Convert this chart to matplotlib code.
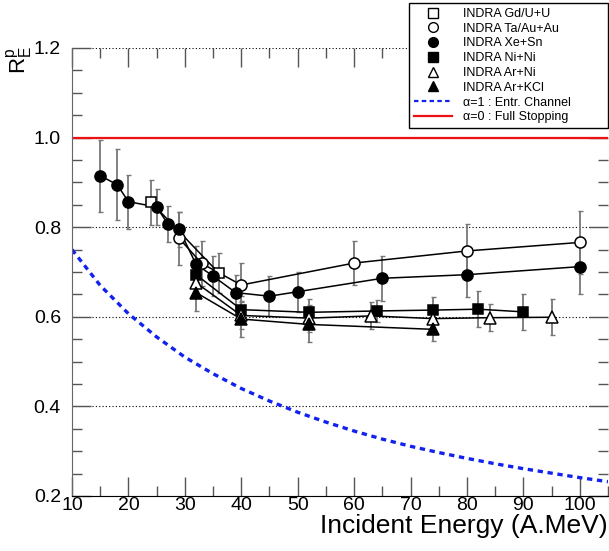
import matplotlib
matplotlib.use("Agg")
import matplotlib.pyplot as plt
from matplotlib.lines import Line2D
from matplotlib.ticker import MultipleLocator

plt.rcParams['font.family'] = ['Liberation Sans', 'DejaVu Sans']
plt.rcParams['mathtext.fontset'] = 'custom'
plt.rcParams['mathtext.rm'] = 'Liberation Sans'
plt.rcParams['mathtext.it'] = 'Liberation Sans'

# values
gdu_e = [24, 36]
gdu_r = [0.856, 0.698]
gdu_err = [0.05, 0.045]

taau_e = [29, 33, 40, 60, 80, 100]
taau_r = [0.775, 0.719, 0.671, 0.720, 0.747, 0.766]
taau_err = [0.06, 0.05, 0.05, 0.05, 0.06, 0.07]

xesn_e = [15, 18, 20, 25, 27, 29, 32, 35, 39, 45, 50, 65, 80, 100]
xesn_r = [0.915, 0.895, 0.857, 0.845, 0.807, 0.795, 0.717, 0.691,
          0.654, 0.646, 0.656, 0.686, 0.694, 0.712]
xesn_err = [0.08, 0.08, 0.06, 0.04, 0.04, 0.04, 0.04, 0.045,
            0.04, 0.045, 0.045, 0.05, 0.05, 0.06]

nini_e = [32, 40, 52, 64, 74, 82, 90]
nini_r = [0.694, 0.616, 0.610, 0.613, 0.615, 0.617, 0.611]
nini_err = [0.03, 0.03, 0.03, 0.025, 0.03, 0.04, 0.04]

arni_e = [32, 40, 52, 63, 74, 84, 95]
arni_r = [0.676, 0.603, 0.597, 0.602, 0.596, 0.598, 0.599]
arni_err = [0.03, 0.03, 0.03, 0.03, 0.03, 0.03, 0.04]

arkcl_e = [32, 40, 52, 74]
arkcl_r = [0.654, 0.595, 0.583, 0.572]
arkcl_err = [0.04, 0.04, 0.04, 0.025]

# alpha=1 entrance channel curve
entr_e = [10, 15, 20, 25, 30, 35, 40, 45, 50, 55, 60, 65, 70, 75, 80,
          85, 90, 95, 100, 105]
entr_r = [0.750, 0.670, 0.607, 0.555, 0.510, 0.473, 0.440, 0.412, 0.387,
          0.365, 0.345, 0.327, 0.311, 0.297, 0.284, 0.272, 0.261, 0.251,
          0.241, 0.232]

# alpha=0 full stopping
stop_e = [10, 105]
stop_r = [1.0, 1.0]

series = [
    (gdu_e, gdu_r, gdu_err, 's', 'white', 'INDRA Gd/U+U'),
    (taau_e, taau_r, taau_err, 'o', 'white', 'INDRA Ta/Au+Au'),
    (xesn_e, xesn_r, xesn_err, 'o', 'black', 'INDRA Xe+Sn'),
    (nini_e, nini_r, nini_err, 's', 'black', 'INDRA Ni+Ni'),
    (arni_e, arni_r, arni_err, '^', 'white', 'INDRA Ar+Ni'),
    (arkcl_e, arkcl_r, arkcl_err, '^', 'black', 'INDRA Ar+KCl'),
]

fig = plt.figure(figsize=(6.09, 5.51), dpi=100)
ax = fig.add_axes([72 / 609, 55 / 551, 536 / 609, 448 / 551])

ax.plot(stop_e, stop_r, color='#ee1111', lw=1.6, zorder=2)
ax.plot(entr_e, entr_r, color='#1122ee', lw=2.4, ls=(0, (1.6, 1.4)), zorder=2)

handles = []
for i, (e, r, err, m, fc, lab) in enumerate(series):
    ax.errorbar(e, r, yerr=err, fmt='none', ecolor='#777777', elinewidth=1.3,
                capsize=1.8, capthick=1.0, zorder=3)
    ax.plot(e, r, color='black', lw=1.1, zorder=4)
    ax.plot(e, r, ls='none', marker=m, ms=8 if m != 's' else 7.5,
            mfc=fc, mec='black', mew=1.1, zorder=5 + i)
    handles.append(Line2D([], [], ls='none', marker=m, ms=7, mfc=fc,
                          mec='black', mew=1.0, label=lab))

handles.append(Line2D([], [], color='#1122ee', lw=1.6, ls=(0, (2, 1.5)),
                      label='α=1 : Entr. Channel'))
handles.append(Line2D([], [], color='#ee1111', lw=1.6,
                      label='α=0 : Full Stopping'))

ax.set_xlim(10, 105)
ax.set_ylim(0.2, 1.2)
ax.xaxis.set_major_locator(MultipleLocator(10))
ax.xaxis.set_minor_locator(MultipleLocator(5))
ax.yaxis.set_major_locator(MultipleLocator(0.2))
ax.yaxis.set_minor_locator(MultipleLocator(0.05))
ax.yaxis.set_major_formatter(plt.FormatStrFormatter('%.1f'))

ax.tick_params(which='both', direction='in', top=True, right=True,
               color='#555555', width=1.0, labelsize=14)
ax.tick_params(which='major', length=14)
ax.tick_params(which='minor', length=7)
ax.tick_params(axis='x', pad=1)
ax.tick_params(axis='y', pad=8)

ax.grid(axis='y', which='major', color='black', lw=0.8, ls=(0, (1, 2)))
ax.spines['top'].set_visible(False)
ax.spines['right'].set_visible(False)
ax.spines['left'].set_color('#666666')
ax.spines['bottom'].set_color('black')

ax.set_xlabel('Incident Energy (A.MeV)', fontsize=19, loc='right', labelpad=0)
fig.text(20 / 609, 1 - 46 / 551, r'$\mathregular{R_E^p}$', rotation=90,
         fontsize=16, ha='center', va='top')

# legend box spans x 409..608, y 3..134 px
leg = fig.legend(handles=handles, loc='upper left',
                 bbox_to_anchor=(409 / 609, 1 - 134 / 551, 199 / 609, 131 / 551),
                 mode='expand', fontsize=9, frameon=True, fancybox=False,
                 framealpha=1, edgecolor='black', handlelength=3.0,
                 handletextpad=0.9, labelspacing=0.22, borderpad=0.4,
                 borderaxespad=0)
leg.get_frame().set_linewidth(1.0)

fig.savefig('out.png', dpi=100)
